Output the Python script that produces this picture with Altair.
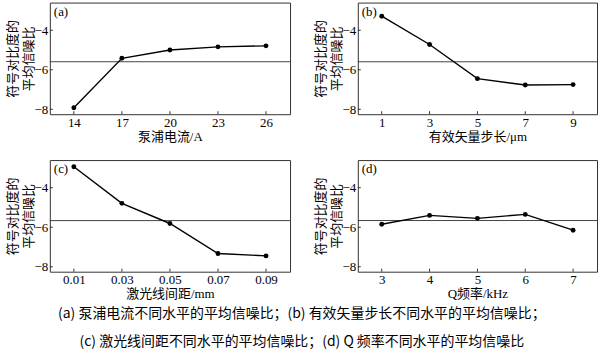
import altair as alt
import pandas as pd

# Data
a_x = ["14", "17", "20", "23", "26"]
a_y = [-7.92, -5.42, -5.00, -4.84, -4.79]
b_x = ["1", "3", "5", "7", "9"]
b_y = [-3.29, -4.72, -6.45, -6.77, -6.75]
c_x = ["0.01", "0.03", "0.05", "0.07", "0.09"]
c_y = [-2.94, -4.79, -5.81, -7.33, -7.45]
d_x = ["3", "4", "5", "6", "7"]
d_y = [-5.85, -5.40, -5.55, -5.35, -6.15]

x_titles = ["泵浦电流/A", "有效矢量步长/μm", "激光线间距/mm", "Q频率/kHz"]
tags = ["(a)", "(b)", "(c)", "(d)"]
y_title = ["符号对比度的", "平均信噪比"]
y_ticks = [-8, -6, -4]
caption = ["(a)  泵浦电流不同水平的平均信噪比；(b)  有效矢量步长不同水平的平均信噪比；",
           "(c)  激光线间距不同水平的平均信噪比；(d) Q 频率不同水平的平均信噪比"]

SERIF = "Liberation Serif, Noto Sans CJK SC"
H = 112


def panel(xs, ys, xt, tag, w):
    df = pd.DataFrame({"x": xs, "y": ys})
    yscale = alt.Scale(domain=[-8.25, -2.6], nice=False, zero=False)
    yaxis = alt.Axis(values=y_ticks, title=y_title, ticks=False, domain=False, grid=False,
                     labelPadding=2, titlePadding=-1, titleLineHeight=16)
    xaxis = alt.Axis(title=xt, labelAngle=0, ticks=False, domain=False, grid=False,
                     labelPadding=2, titlePadding=1)
    X = alt.X("x:N", sort=xs, scale=alt.Scale(type="point", padding=0.5), axis=xaxis)
    Y = alt.Y("y:Q", scale=yscale, axis=yaxis)
    base = alt.Chart(df)
    mean_rule = base.mark_rule(color="#444", strokeWidth=1).encode(
        y=alt.Y("mean(y):Q", scale=yscale, axis=yaxis))
    line = base.mark_line(color="black", strokeWidth=1.4).encode(x=X, y=Y)
    pts = base.mark_point(filled=True, color="black", size=24, opacity=1).encode(x=X, y=Y)
    xt_rules = base.mark_rule(color="#333", strokeWidth=1).encode(
        x=X, y=alt.value(H), y2=alt.value(H - 3))
    tdf = pd.DataFrame({"t": y_ticks})
    yt_rules = alt.Chart(tdf).mark_rule(color="#333", strokeWidth=1).encode(
        y=alt.Y("t:Q", scale=yscale, axis=yaxis), x=alt.value(0), x2=alt.value(3))
    lab = alt.Chart(pd.DataFrame({"tag": [tag]})).mark_text(
        align="left", baseline="middle", font=SERIF, fontSize=13, color="black").encode(
        text="tag:N", x=alt.value(4), y=alt.value(9))
    return alt.layer(mean_rule, line, pts, xt_rules, yt_rules, lab).properties(width=w, height=H)


pa = panel(a_x, a_y, x_titles[0], tags[0], 241)
pb = panel(b_x, b_y, x_titles[1], tags[1], 240)
pc = panel(c_x, c_y, x_titles[2], tags[2], 241)
pd_ = panel(d_x, d_y, x_titles[3], tags[3], 240)

chart = alt.concat(pa, pb, pc, pd_, columns=2, spacing={"row": 46, "column": 68},
                   bounds="flush").properties(
    title=alt.TitleParams(text=caption, orient="bottom", anchor="middle", fontSize=14,
                          font="Noto Sans CJK SC", fontWeight="normal", lineHeight=28,
                          offset=6, color="black"),
    padding={"left": 5, "top": 1, "right": 2, "bottom": 10},
    background="white",
).configure_view(stroke="#333", strokeWidth=1).configure_axis(
    labelFont=SERIF, labelFontSize=13, labelColor="black",
    titleFont=SERIF, titleFontSize=13, titleFontWeight="normal", titleColor="black")

chart.save("out.html", embed_options={"renderer": "svg", "actions": False})
